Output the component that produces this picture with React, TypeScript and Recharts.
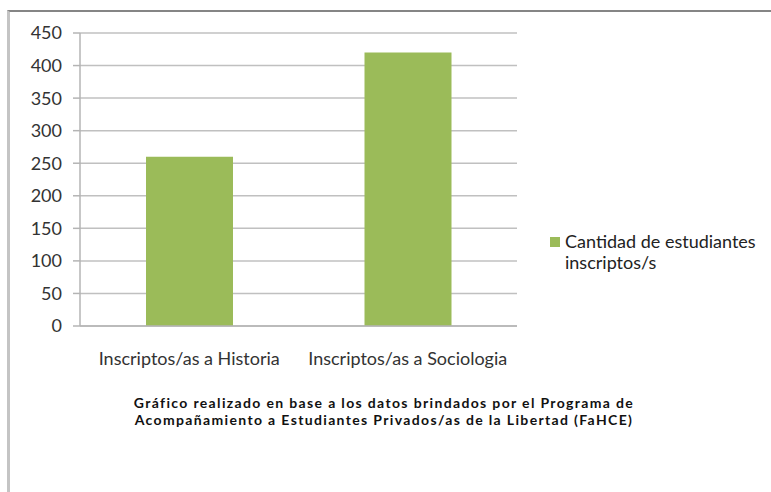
import React from 'react';
import { BarChart, Bar, XAxis, YAxis, CartesianGrid, Legend } from 'recharts';

const categories = ['Inscriptos/as a Historia', 'Inscriptos/as a Sociologia'];
const values = [260, 420];
const yTicks = [0, 50, 100, 150, 200, 250, 300, 350, 400, 450];
const seriesName = 'Cantidad de estudiantes inscriptos/s';
const captionLines = [
  'Gráfico realizado en base a los datos brindados por el Programa de',
  'Acompañamiento a Estudiantes Privados/as de la Libertad (FaHCE)',
];

const data = categories.map((c, i) => ({ name: c, value: values[i] }));

const GREEN = '#9BBB59';
const FONT = 'Lato, "Open Sans", sans-serif';

const LegendContent = () => (
  <div style={{ display: 'flex', alignItems: 'flex-start', fontFamily: FONT, fontSize: 18, color: '#222', lineHeight: '21px' }}>
    <div style={{ width: 10, height: 10, background: GREEN, marginTop: 6, marginRight: 5, flex: 'none' }} />
    <div style={{ width: 210 }}>
      Cantidad de estudiantes
      <br />
      inscriptos/s
    </div>
  </div>
);

export default function App() {
  return (
    <div style={{ position: 'fixed', left: 0, top: 0, width: 771, height: 492, background: '#fff', overflow: 'hidden' }}>
      <div style={{ position: 'absolute', left: 7, top: 10, width: 800, height: 500, borderTop: '2px solid #858585', borderLeft: '3px solid #c4c4c4', boxSizing: 'border-box' }} />
      <BarChart
        width={771}
        height={492}
        data={data}
        margin={{ top: 33, right: 254, left: 0, bottom: 126 }}
      >
        <CartesianGrid vertical={false} stroke="#c0c0c0" strokeWidth={1.5} />
        <YAxis
          width={80}
          domain={[0, 450]}
          ticks={yTicks}
          interval={0}
          tickSize={7}
          tickMargin={11}
          axisLine={{ stroke: '#b4b4b4', strokeWidth: 1.5 }}
          tickLine={{ stroke: '#b4b4b4', strokeWidth: 1.5 }}
          tick={{ fill: '#333', fontSize: 18, fontFamily: FONT }}
        />
        <XAxis
          dataKey="name"
          height={40}
          tickLine={false}
          tickSize={0}
          tickMargin={26}
          interval={0}
          axisLine={{ stroke: '#b4b4b4', strokeWidth: 1.5 }}
          tick={{ fill: '#333', fontSize: 18, fontFamily: FONT }}
        />
        <Legend
          layout="horizontal"
          verticalAlign="middle"
          align="center"
          content={<LegendContent />}
          wrapperStyle={{ position: 'absolute', left: 550, top: 231, width: 220 }}
        />
        <Bar dataKey="value" name={seriesName} fill={GREEN} barSize={87} isAnimationActive={false} />
      </BarChart>
      <div style={{ position: 'absolute', left: 108, top: 394, width: 552, textAlign: 'center', fontFamily: FONT, fontWeight: 700, fontSize: 14, letterSpacing: 1.35, lineHeight: '17px', color: '#111' }}>
        {captionLines.map((l) => (
          <div key={l} style={{ whiteSpace: 'nowrap' }}>{l}</div>
        ))}
      </div>
    </div>
  );
}
